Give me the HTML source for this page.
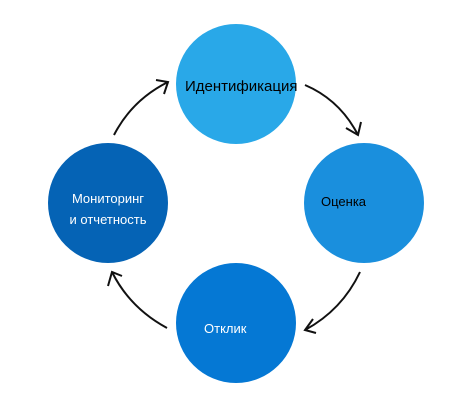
<!DOCTYPE html>
<html><head><style>
body{margin:0;background:#fff;width:472px;height:408px;overflow:hidden}
</style></head><body>
<svg width="472" height="408" xmlns="http://www.w3.org/2000/svg" font-family="Liberation Sans, sans-serif">
<circle cx="236" cy="84" r="60" fill="#29a8e8"/>
<circle cx="364" cy="203" r="60" fill="#1a8fdd"/>
<circle cx="236" cy="323" r="60" fill="#0578d4"/>
<circle cx="108" cy="203" r="60" fill="#0563b5"/>
<g fill="none" stroke="#111" stroke-width="2">
<path d="M305 85 Q340 100 358 135"/>
<path d="M346 128 L358 135 L361 122"/>
<path d="M360 272 Q342 310 305 330"/>
<path d="M313 319 L305 330 L316 333"/>
<path d="M167 328 Q130 308 112 272"/>
<path d="M108 286 L112 272 L122 276"/>
<path d="M114 135 Q132 100 168 82"/>
<path d="M156 80 L168 82 L164 94"/>
</g>
<text x="185" y="91" font-size="15" fill="#000">Идентификация</text>
<text x="321" y="206" font-size="13" fill="#000">Оценка</text>
<text x="204" y="333" font-size="13" fill="#fff">Отклик</text>
<text x="108" y="203" font-size="13" fill="#fff" text-anchor="middle">Мониторинг</text>
<text x="108" y="224" font-size="13" fill="#fff" text-anchor="middle">и отчетность</text>
</svg>
</body></html>
